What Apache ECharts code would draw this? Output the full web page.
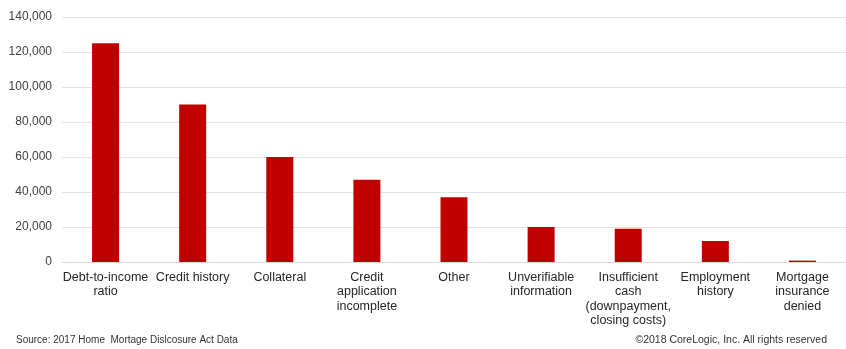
<!DOCTYPE html>
<html>
<head>
<meta charset="utf-8">
<script src="https://cdn.jsdelivr.net/npm/echarts@6/dist/echarts.min.js"></script>
<style>
html,body{margin:0;padding:0;background:#fff;}
#chart{width:846px;height:349px;}
</style>
</head>
<body>
<div id="chart"></div>
<script>
const categories = [
  "Debt-to-income\nratio",
  "Credit history",
  "Collateral",
  "Credit\napplication\nincomplete",
  "Other",
  "Unverifiable\ninformation",
  "Insufficient\ncash\n(downpayment,\nclosing costs)",
  "Employment\nhistory",
  "Mortgage\ninsurance\ndenied"
];
const denials = [125000, 90000, 60000, 47000, 37000, 20000, 19000, 12000, 800];
const yTicks = { min: 0, max: 140000, interval: 20000 };
const sourceText = "Source: 2017 Home  Mortage Dislcosure Act Data";
const copyrightText = "\u00a92018 CoreLogic, Inc. All rights reserved";

const chart = echarts.init(document.getElementById('chart'), null, { renderer: 'canvas' });
chart.setOption({
  animation: false,
  backgroundColor: '#ffffff',
  textStyle: { fontFamily: 'Liberation Sans, Arial, sans-serif' },
  grid: { left: 62, top: 17, width: 788, bottom: 87, containLabel: false },
  xAxis: {
    type: 'category',
    data: categories,
    axisLine: { show: true, lineStyle: { color: '#d9d9d9', width: 1 } },
    axisTick: { show: false },
    axisLabel: {
      interval: 0, margin: 8, color: '#262626', fontSize: 12.5, lineHeight: 14.5,
      fontFamily: 'Liberation Sans, Arial, sans-serif'
    }
  },
  yAxis: {
    type: 'value',
    min: yTicks.min, max: yTicks.max, interval: yTicks.interval,
    axisLine: { show: false },
    axisTick: { show: false },
    splitLine: { lineStyle: { color: '#e3e3e3', width: 1 } },
    axisLabel: {
      margin: 10, color: '#404040', fontSize: 12,
      fontFamily: 'Liberation Sans, Arial, sans-serif',
      formatter: v => v.toLocaleString('en-US')
    }
  },
  series: [{
    type: 'bar',
    data: denials,
    barWidth: 27,
    itemStyle: { color: '#c00000' }
  }],
  graphic: [
    { type: 'text', left: 16, top: 335, style: { text: sourceText, fontSize: 10, fill: '#333', fontFamily: 'Liberation Sans, Arial, sans-serif' } },
    { type: 'text', right: 19, top: 335, style: { text: copyrightText, fontSize: 10.5, fill: '#333', fontFamily: 'Liberation Sans, Arial, sans-serif' } }
  ]
});
</script>
</body>
</html>
